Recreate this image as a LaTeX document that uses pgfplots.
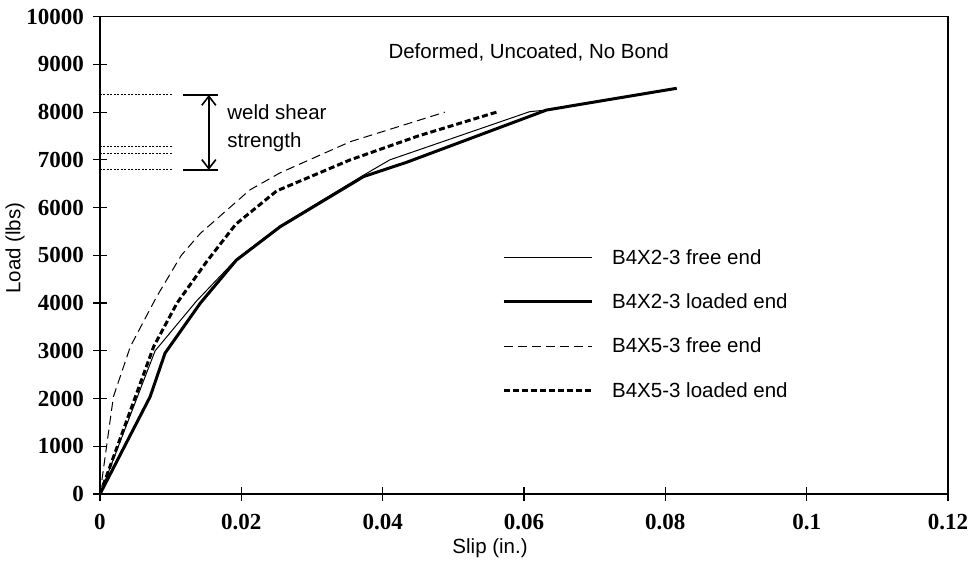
\documentclass[border=0pt]{standalone}
\usepackage{fontspec}
\setmainfont{Liberation Sans}
\newfontfamily\tickfont{Liberation Serif}
\usepackage{pgfplots}
\pgfplotsset{compat=1.18}
\usetikzlibrary{arrows.meta}
\newcommand\lf{\fontsize{20.5bp}{24bp}\selectfont}
\newcommand\tf{\tickfont\bfseries\fontsize{23bp}{25bp}\selectfont}
\begin{document}
\begin{tikzpicture}
\useasboundingbox[fill=white] (-100bp,-74bp) rectangle (874bp,494bp);
\begin{axis}[
  scale only axis, width=848bp, height=477.3bp,
  xmin=0, xmax=0.12, ymin=0, ymax=10000,
  xtick={0,0.02,0.04,0.06,0.08,0.1,0.12},
  xticklabels={0,0.02,0.04,0.06,0.08,0.1,0.12},
  ytick={0,1000,2000,3000,4000,5000,6000,7000,8000,9000,10000},
  yticklabels={0,1000,2000,3000,4000,5000,6000,7000,8000,9000,10000},
  scaled x ticks=false, scaled y ticks=false,
  xtick pos=bottom, ytick pos=left,
  tick align=center, major tick length=14bp,
  axis line style={line width=1.2bp},
  every tick/.style={black, line width=1.2bp},
  /pgf/number format/assume math mode=true,
  ticklabel style={font=\tf},
  yticklabel style={anchor=east, inner sep=0pt, xshift=-9bp},
  xticklabel style={anchor=north, inner sep=0pt, yshift=-13bp},
  xlabel={Slip (in.)}, ylabel={Load (lbs)},
  label style={font=\lf},
  xlabel style={at={(axis description cs:0.46,0)}, anchor=center, yshift=-54bp},
  ylabel style={at={(axis description cs:0,0.515)}, anchor=center, yshift=85bp},
  legend style={draw=none, fill=none, font=\lf, at={(axis description cs:0.474,0.515)},
    anchor=north west, inner sep=0pt, row sep=26bp, column sep=18bp,
    nodes={inner sep=1bp}},
  legend cell align=left,
  legend image code/.code={\draw[#1] (0bp,0bp) -- (88bp,0bp);},
]
% B4X2-3 free end
\addplot[black, line width=1bp] coordinates {
 (0,0) (0.0078,3000) (0.0137,4050) (0.0193,4920) (0.0255,5620) (0.0373,6680)
 (0.041,7000) (0.0608,8010) (0.0632,8045) (0.0816,8500)};
\addlegendentry{B4X2-3 free end}
% B4X2-3 loaded end
\addplot[black, line width=3bp] coordinates {
 (0,0) (0.0071,2040) (0.0092,2950) (0.0142,4000) (0.0193,4900) (0.0255,5600)
 (0.0373,6650) (0.0434,6950) (0.0632,8045) (0.0816,8500)};
\addlegendentry{B4X2-3 loaded end}
% B4X5-3 free end
\addplot[black, line width=1bp, dash pattern=on 9bp off 5bp] coordinates {
 (0,0) (0.0019,2040) (0.0043,3090) (0.0080,4130) (0.0115,5000) (0.0142,5460)
 (0.0212,6370) (0.0255,6730) (0.0354,7380) (0.0488,8000)};
\addlegendentry{B4X5-3 free end}
% B4X5-3 loaded end
\addplot[black, line width=3bp, dash pattern=on 6bp off 3bp] coordinates {
 (0,0) (0.0076,3090) (0.0109,4000) (0.0151,4870) (0.0192,5650) (0.025,6350)
 (0.0354,7000) (0.045,7500) (0.0561,8000)};
\addlegendentry{B4X5-3 loaded end}
% weld shear strength annotation
\addplot[black, line width=1bp, dash pattern=on 2bp off 1.5bp, forget plot] coordinates {(0,8360) (0.0102,8360)};
\addplot[black, line width=1bp, dash pattern=on 2bp off 1.5bp, forget plot] coordinates {(0,7290) (0.0102,7290)};
\addplot[black, line width=1bp, dash pattern=on 2bp off 1.5bp, forget plot] coordinates {(0,7140) (0.0102,7140)};
\addplot[black, line width=1bp, dash pattern=on 2bp off 1.5bp, forget plot] coordinates {(0,6790) (0.0102,6790)};
\addplot[black, line width=1.2bp, forget plot] coordinates {(0.0117,8360) (0.0167,8360)};
\addplot[black, line width=1.2bp, forget plot] coordinates {(0.0117,6790) (0.0167,6790)};
\draw[{Straight Barb[length=9bp,width=14bp,line width=1.6bp]}-{Straight Barb[length=9bp,width=14bp,line width=1.6bp]}, line width=1.6bp]
  (axis cs:0.0154,8360) -- (axis cs:0.0154,6790);
\node[anchor=base west, inner sep=0pt, font=\lf] at (axis cs:0.018,7836) {weld shear};
\node[anchor=base west, inner sep=0pt, font=\lf] at (axis cs:0.018,7270) {strength};
\node[anchor=base west, inner sep=0pt, font=\lf] at (axis cs:0.0408,9114) {Deformed, Uncoated, No Bond};
\end{axis}
\end{tikzpicture}
\end{document}
